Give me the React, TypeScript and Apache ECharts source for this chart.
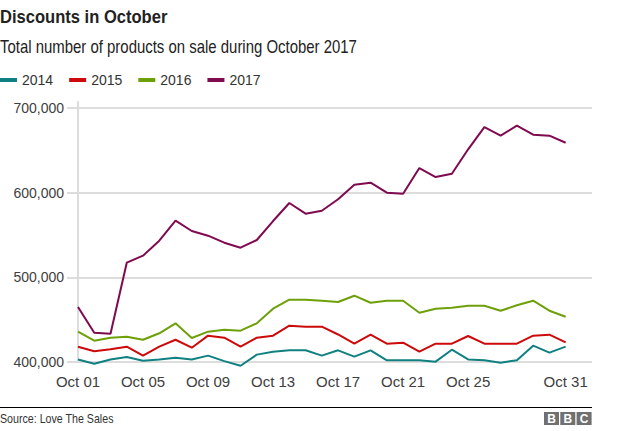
import React, { useEffect, useRef } from "react";
import * as echarts from "echarts";

const FONT = "'Liberation Sans', Arial, sans-serif";

const days = [1, 2, 3, 4, 5, 6, 7, 8, 9, 10, 11, 12, 13, 14, 15, 16, 17, 18, 19, 20, 21, 22, 23, 24, 25, 26, 27, 28, 29, 30, 31];
const xTickDays = [1, 5, 9, 13, 17, 21, 25, 31];
const yTicks = [400000, 500000, 600000, 700000];

const seriesNames = ["2014", "2015", "2016", "2017"];
const seriesColors = ["#108080", "#cc0a0a", "#6ea00a", "#7f0a4f"];

const v2014 = [403000, 398000, 403000, 406000, 401500, 403000, 405000, 403000, 407500, 401000, 395600, 408700, 412200, 413800, 413800, 407500, 413800, 406300, 413800, 402000, 402000, 402000, 400400, 414500, 403000, 402000, 399200, 402000, 419300, 411000, 418100];
const v2015 = [418100, 412600, 415000, 418100, 407500, 418100, 426300, 416900, 431100, 428700, 418100, 428700, 431100, 442900, 441700, 441700, 432500, 421600, 432300, 421600, 422800, 412200, 421600, 421600, 430700, 421600, 421600, 421600, 431100, 432300, 423200];
const v2016 = [435800, 425200, 428700, 429900, 426300, 433900, 445700, 428300, 435800, 438200, 437000, 445700, 463000, 473600, 473600, 472400, 470900, 478300, 470000, 472400, 472400, 458200, 463000, 464100, 466500, 466500, 460600, 467000, 472400, 460600, 453500];
const v2017 = [465000, 434600, 433400, 517300, 525600, 543300, 566900, 554700, 549200, 540900, 535000, 544100, 566500, 587800, 575200, 578700, 592200, 609400, 611800, 600000, 598800, 629100, 618500, 622400, 651200, 677500, 667300, 679100, 668500, 667300, 659000];

const seriesValues = [v2014, v2015, v2016, v2017];

const titleText = "Discounts in October";
const subtitleText = "Total number of products on sale during October 2017";
const sourceText = "Source: Love The Sales";

const fmtNum = (v: number) => String(v).replace(/\B(?=(\d{3})+(?!\d))/g, ",");
const pad = (d: number) => (d < 10 ? "0" + d : String(d));

export default function App() {
  const ref = useRef<HTMLDivElement>(null);
  useEffect(() => {
    document.body.style.margin = "0";
    const chart = echarts.init(ref.current!, null, { renderer: "svg" });
    const bbcLetters = ["B", "B", "C"];
    chart.setOption({
      animation: false,
      backgroundColor: "#ffffff",
      textStyle: { fontFamily: FONT },
      grid: { left: 78, right: 32, top: 108, bottom: 69, containLabel: false },
      legend: {
        left: 0,
        top: 73,
        padding: 0,
        icon: "rect",
        itemWidth: 17,
        itemHeight: 4,
        itemGap: 16,
        data: seriesNames,
        textStyle: { fontSize: 14, color: "#333333", fontFamily: FONT },
      },
      xAxis: {
        type: "value",
        min: 1,
        max: 32.62,
        interval: 1,
        axisLine: { show: false },
        axisTick: { show: false },
        splitLine: { show: false },
        axisLabel: {
          fontSize: 15,
          color: "#404040",
          fontFamily: FONT,
          margin: 12,
          showMaxLabel: false,
          formatter: (v: number) => (xTickDays.indexOf(v) >= 0 ? "Oct " + pad(v) : ""),
        },
      },
      yAxis: {
        type: "value",
        min: yTicks[0],
        max: yTicks[yTicks.length - 1],
        interval: 100000,
        axisLine: { show: false },
        axisTick: { show: true, length: 11, lineStyle: { color: "#dddddd", width: 2 } },
        splitLine: { show: true, lineStyle: { color: "#dddddd", width: 2 } },
        axisLabel: {
          fontSize: 14,
          color: "#404040",
          fontFamily: FONT,
          margin: 14,
          formatter: (v: number) => fmtNum(v),
        },
      },
      series: seriesNames.map((name, i) => ({
        name,
        type: "line",
        symbol: "none",
        clip: false,
        color: seriesColors[i],
        lineStyle: { width: 2, color: seriesColors[i] },
        data: days.map((d, j) => [d, seriesValues[i][j]]),
      })),
      graphic: [
        {
          type: "line",
          shape: { x1: 78, y1: 101, x2: 78, y2: 363 },
          style: { stroke: "#dddddd", lineWidth: 2 },
          z: 0,
        },
        {
          type: "text",
          x: 0,
          y: 16.5,
          scaleX: 0.92,
          style: { text: titleText, font: `bold 18px ${FONT}`, fill: "#222222", verticalAlign: "middle" },
        },
        {
          type: "text",
          x: 0,
          y: 47,
          scaleX: 0.83,
          style: { text: subtitleText, font: `18px ${FONT}`, fill: "#222222", verticalAlign: "middle" },
        },
        {
          type: "line",
          shape: { x1: 0, y1: 407.5, x2: 592, y2: 407.5 },
          style: { stroke: "#000000", lineWidth: 1 },
        },
        {
          type: "text",
          x: 0,
          y: 418.5,
          scaleX: 0.82,
          style: { text: sourceText, font: `13px ${FONT}`, fill: "#333333", verticalAlign: "middle" },
        },
        {
          type: "group",
          x: 544,
          y: 412,
          children: bbcLetters.flatMap((ch, k) => [
            {
              type: "rect",
              shape: { x: k * 16.3, y: 0, width: 15, height: 13 },
              style: { fill: "#707070" },
            },
            {
              type: "text",
              x: k * 16.3 + 7.5,
              y: 6.8,
              style: {
                text: ch,
                font: `bold 12px ${FONT}`,
                fill: "#ffffff",
                align: "center",
                verticalAlign: "middle",
              },
            },
          ]),
        },
      ],
    });
    return () => chart.dispose();
  }, []);
  return <div ref={ref} style={{ width: 624, height: 431 }} />;
}
